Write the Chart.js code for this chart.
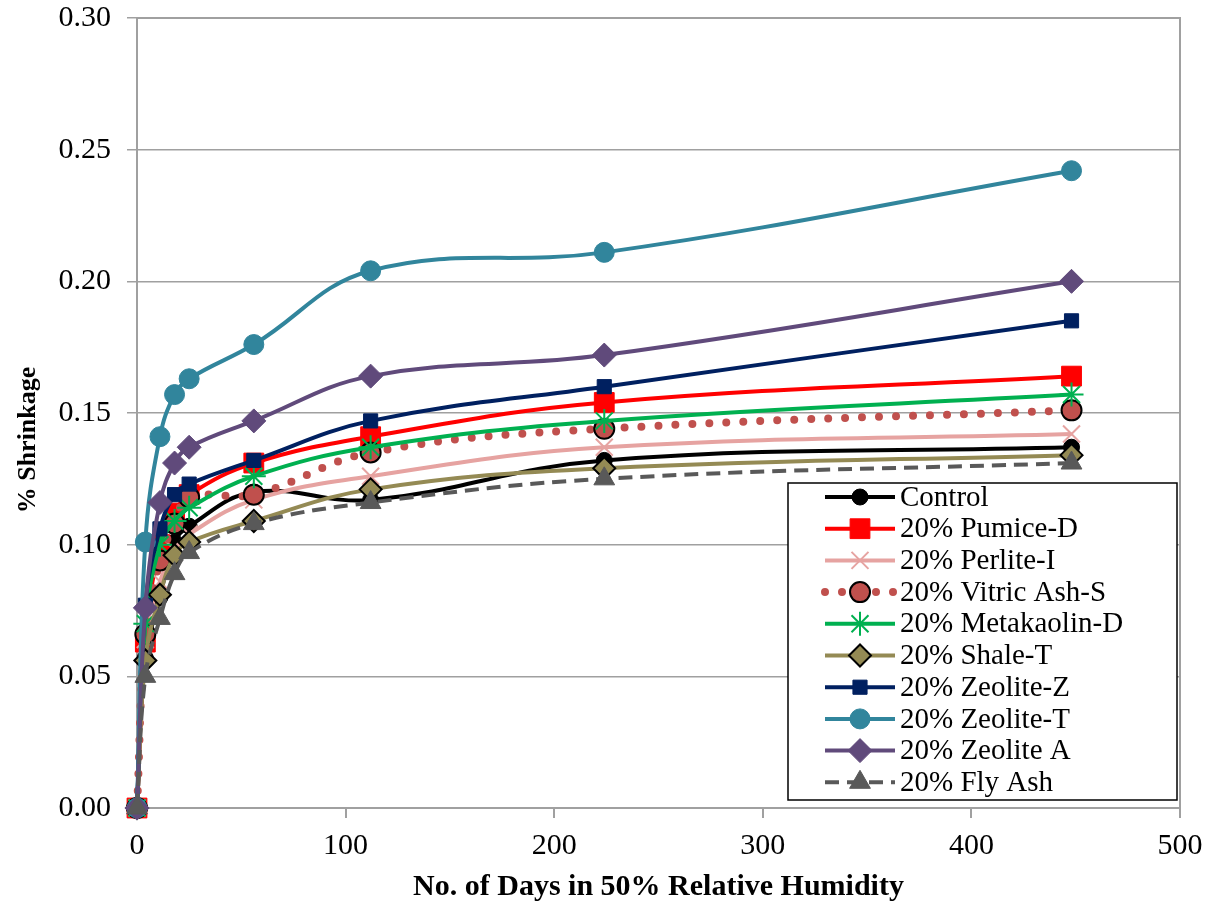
<!DOCTYPE html>
<html>
<head>
<meta charset="utf-8">
<script src="https://cdn.jsdelivr.net/npm/chart.js@4.4.1/dist/chart.umd.min.js"></script>
<style>
  html, body { margin: 0; padding: 0; background: #fff; }
  #wrap { width: 1217px; height: 909px; }
</style>
</head>
<body>
<div id="wrap"><canvas id="shrinkChart" width="1217" height="909"></canvas></div>
<script>
// days in 50% RH
const days = [0, 4, 11, 18, 25, 56, 112, 224, 448];

const control     = [0, 0.057, 0.080, 0.101, 0.107, 0.120, 0.117, 0.132, 0.137];
const pumiceD     = [0, 0.063, 0.100, 0.112, 0.119, 0.131, 0.141, 0.154, 0.164];
const perliteI    = [0, 0.064, 0.086, 0.098, 0.104, 0.117, 0.126, 0.137, 0.142];
const vitricAshS  = [0, 0.066, 0.094, 0.108, 0.118, 0.119, 0.135, 0.144, 0.151];
const metakaolinD = [0, 0.070, 0.100, 0.109, 0.114, 0.126, 0.137, 0.147, 0.157];
const shaleT      = [0, 0.056, 0.081, 0.096, 0.101, 0.109, 0.121, 0.129, 0.134];
const zeoliteZ    = [0, 0.077, 0.106, 0.119, 0.123, 0.132, 0.147, 0.160, 0.185];
const zeoliteT    = [0, 0.101, 0.141, 0.157, 0.163, 0.176, 0.204, 0.211, 0.242];
const zeoliteA    = [0, 0.076, 0.116, 0.131, 0.137, 0.147, 0.164, 0.172, 0.200];
const flyAsh      = [0, 0.050, 0.072, 0.089, 0.097, 0.108, 0.116, 0.125, 0.131];

const seriesNames = ['Control', '20% Pumice-D', '20% Perlite-I', '20% Vitric Ash-S',
  '20% Metakaolin-D', '20% Shale-T', '20% Zeolite-Z', '20% Zeolite-T', '20% Zeolite A', '20% Fly Ash'];
const seriesData = [control, pumiceD, perliteI, vitricAshS, metakaolinD, shaleT, zeoliteZ, zeoliteT, zeoliteA, flyAsh];

const styles = [
  { line: '#000000', fill: '#000000', edge: '#000000', point: 'circle',   r: 8,  pw: 1 },
  { line: '#FF0000', fill: '#FF0000', edge: '#FF0000', point: 'rect',     r: 14, pw: 1 },
  { line: '#E6A3A1', fill: '#E6A3A1', edge: '#E6A3A1', point: 'crossRot', r: 12, pw: 2 },
  { line: '#C0504D', fill: '#C0504D', edge: '#000000', point: 'circle',   r: 10, pw: 2, dash: [0, 17], lw: 8 },
  { line: '#00B050', fill: '#00B050', edge: '#00B050', point: 'star',     r: 12, pw: 2 },
  { line: '#948A54', fill: '#948A54', edge: '#000000', point: 'rectRot',  r: 11, pw: 2 },
  { line: '#002060', fill: '#002060', edge: '#002060', point: 'rect',     r: 10, pw: 1 },
  { line: '#31859C', fill: '#31859C', edge: '#31859C', point: 'circle',   r: 10, pw: 1 },
  { line: '#604A7B', fill: '#604A7B', edge: '#604A7B', point: 'rectRot',  r: 12, pw: 1 },
  { line: '#595959', fill: '#595959', edge: '#595959', point: 'triangle', r: 12, pw: 1, dash: [14, 8] }
];

const serif = '"Liberation Serif", "Times New Roman", serif';

const datasets = seriesData.map(function (vals, i) {
  const s = styles[i];
  return {
    label: seriesNames[i],
    data: vals.map(function (v, k) { return { x: days[k], y: v }; }),
    borderColor: s.line,
    backgroundColor: s.fill,
    borderWidth: s.lw || 4,
    borderDash: s.dash || [],
    borderCapStyle: s.dash && s.dash[0] === 0 ? 'round' : 'butt',
    tension: 0.4,
    pointStyle: s.point,
    pointRadius: s.r,
    pointBorderColor: s.edge,
    pointBackgroundColor: s.fill,
    pointBorderWidth: s.pw,
    clip: false,
    order: 10 - i
  };
});

// plot border, y title, legend box inside the plot area
const boxPlugin = {
  id: 'boxPlugin',
  beforeDatasetsDraw(chart) {
    const a = chart.chartArea, ctx = chart.ctx;
    ctx.save();
    ctx.strokeStyle = '#A0A0A0';
    ctx.lineWidth = 2;
    ctx.strokeRect(a.left, a.top, a.right - a.left, a.bottom - a.top);
    // y axis title
    ctx.translate(28, 440);
    ctx.rotate(-Math.PI / 2);
    ctx.fillStyle = '#000';
    ctx.font = 'bold 26px ' + serif;
    ctx.textAlign = 'center';
    ctx.textBaseline = 'middle';
    ctx.fillText('% Shrinkage', 0, 0);
    ctx.restore();
  },
  afterDraw(chart) {
    const a = chart.chartArea, ctx = chart.ctx;
    const right = a.right - 3, bottom = a.bottom - 8;
    const left = right - 389, top = bottom - 317;
    ctx.save();
    ctx.fillStyle = '#fff';
    ctx.fillRect(left, top, right - left, bottom - top);
    ctx.strokeStyle = '#000';
    ctx.lineWidth = 1.5;
    ctx.strokeRect(left, top, right - left, bottom - top);
    seriesNames.forEach(function (name, i) {
      const s = styles[i];
      const y = top + 14 + i * 31.7;
      ctx.save();
      ctx.strokeStyle = s.line;
      ctx.lineWidth = s.lw || 4;
      ctx.setLineDash(s.dash || []);
      ctx.lineCap = s.dash && s.dash[0] === 0 ? 'round' : 'butt';
      ctx.beginPath();
      ctx.moveTo(left + 37, y);
      ctx.lineTo(left + 107, y);
      ctx.stroke();
      ctx.restore();
      ctx.save();
      ctx.fillStyle = s.fill;
      ctx.strokeStyle = s.edge;
      ctx.lineWidth = s.pw;
      Chart.helpers.drawPoint(ctx, { pointStyle: s.point, radius: s.r, rotation: 0, borderWidth: s.pw }, left + 72, y);
      ctx.restore();
      ctx.fillStyle = '#000';
      ctx.font = '29px ' + serif;
      ctx.textBaseline = 'middle';
      ctx.textAlign = 'left';
      ctx.fillText(name, left + 112, y + 1);
    });
    ctx.restore();
  }
};

const config = {
  type: 'line',
  data: { datasets: datasets },
  options: {
    responsive: false,
    animation: false,
    layout: { padding: { top: 18, right: 37, left: 0, bottom: 0 } },
    plugins: { legend: { display: false }, tooltip: { enabled: false } },
    scales: {
      x: {
        type: 'linear',
        min: 0, max: 500,
        ticks: { stepSize: 100, color: '#000', padding: 10, font: { family: serif, size: 30 } },
        grid: { drawOnChartArea: false, drawTicks: true, tickLength: 10, color: '#A0A0A0', lineWidth: 2 },
        border: { color: '#A0A0A0', width: 2 },
        title: { display: true, text: 'No. of Days in 50% Relative Humidity', color: '#000',
          font: { family: serif, size: 30, weight: 'bold' }, padding: { top: 0, bottom: 4 } },
        afterFit: function (s) { s.height = 101; }
      },
      y: {
        min: 0, max: 0.30,
        ticks: { stepSize: 0.05, color: '#000', padding: 16, font: { family: serif, size: 30 },
          callback: function (v) { return v.toFixed(2); } },
        grid: { color: '#A0A0A0', lineWidth: 1.5, tickLength: 10 },
        border: { color: '#A0A0A0', width: 2 },
        afterFit: function (s) { s.width = 137; s.paddingTop = 0; s.paddingBottom = 0; }
      }
    }
  },
  plugins: [boxPlugin]
};

const shrinkChart = new Chart(document.getElementById('shrinkChart').getContext('2d'), config);
</script>
</body>
</html>
